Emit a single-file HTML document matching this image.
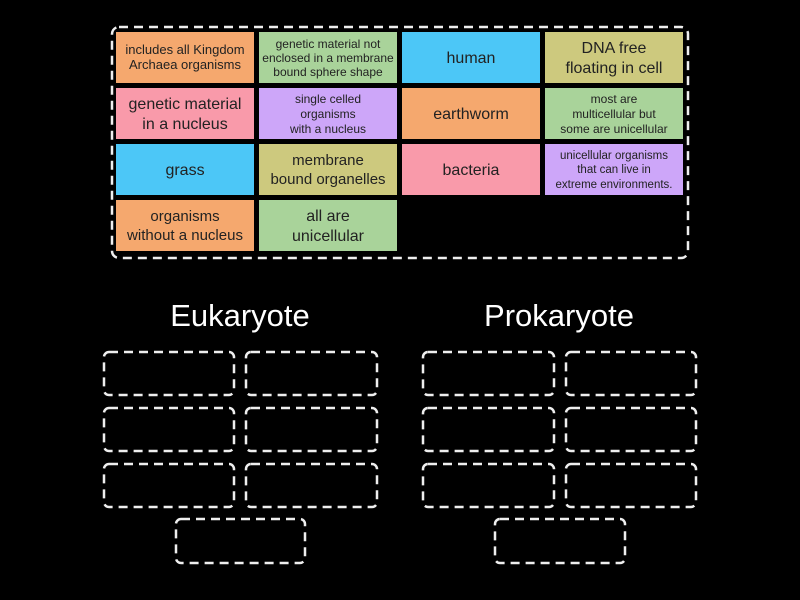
<!DOCTYPE html><html><head><style>body{margin:0;background:#000}svg{display:block}text{font-family:"Liberation Sans",sans-serif;fill:#222;text-anchor:middle}text.h{fill:#fff}</style></head><body>
<svg width="800" height="600" viewBox="0 0 800 600">
<rect width="800" height="600" fill="#000"/>
<g fill="none" stroke="#eee" stroke-width="2.5" stroke-dasharray="9,6">
<rect x="112" y="27" width="576" height="231" rx="7"/>
<rect x="104" y="352" width="130" height="43" rx="5"/><rect x="246" y="352" width="131" height="43" rx="5"/>
<rect x="104" y="408" width="130" height="43" rx="5"/><rect x="246" y="408" width="131" height="43" rx="5"/>
<rect x="104" y="464" width="130" height="43" rx="5"/><rect x="246" y="464" width="131" height="43" rx="5"/>
<rect x="176" y="519" width="129" height="44" rx="5"/>
<rect x="423" y="352" width="131" height="43" rx="5"/><rect x="566" y="352" width="130" height="43" rx="5"/>
<rect x="423" y="408" width="131" height="43" rx="5"/><rect x="566" y="408" width="130" height="43" rx="5"/>
<rect x="423" y="464" width="131" height="43" rx="5"/><rect x="566" y="464" width="130" height="43" rx="5"/>
<rect x="495" y="519" width="130" height="44" rx="5"/>
</g>
<g>
<rect x="116" y="32" width="138" height="51" fill="#f5a86e"/>
<rect x="259" y="32" width="138" height="51" fill="#a9d39a"/>
<rect x="402" y="32" width="138" height="51" fill="#4cc7f7"/>
<rect x="545" y="32" width="138" height="51" fill="#cdc97e"/>
<rect x="116" y="88" width="138" height="51" fill="#f99aaa"/>
<rect x="259" y="88" width="138" height="51" fill="#cda6f9"/>
<rect x="402" y="88" width="138" height="51" fill="#f5a86e"/>
<rect x="545" y="88" width="138" height="51" fill="#a9d39a"/>
<rect x="116" y="144" width="138" height="51" fill="#4cc7f7"/>
<rect x="259" y="144" width="138" height="51" fill="#cdc97e"/>
<rect x="402" y="144" width="138" height="51" fill="#f99aaa"/>
<rect x="545" y="144" width="138" height="51" fill="#cda6f9"/>
<rect x="116" y="200" width="138" height="51" fill="#f5a86e"/>
<rect x="259" y="200" width="138" height="51" fill="#a9d39a"/>
</g>
<g font-size="13">
<text x="185" y="54">includes all Kingdom</text><text x="185" y="69">Archaea organisms</text>
<text x="614" y="103" font-size="12">most are</text><text x="614" y="118" font-size="12">multicellular but</text><text x="614" y="133" font-size="12">some are unicellular</text>
</g>
<g font-size="12">
<text x="328" y="48">genetic material not</text><text x="328" y="62">enclosed in a membrane</text><text x="328" y="76">bound sphere shape</text>
<text x="328" y="103">single celled</text><text x="328" y="118">organisms</text><text x="328" y="133">with a nucleus</text>
<text x="614" y="159" font-size="11.5">unicellular organisms</text><text x="614" y="173" font-size="11.5">that can live in</text><text x="614" y="188" font-size="11.5">extreme environments.</text>
</g>
<g font-size="16">
<text x="471" y="63">human</text>
<text x="614" y="53">DNA free</text><text x="614" y="73">floating in cell</text>
<text x="185" y="109">genetic material</text><text x="185" y="129">in a nucleus</text>
<text x="471" y="119">earthworm</text>
<text x="185" y="175">grass</text>
<text x="328" y="165" font-size="15">membrane</text><text x="328" y="184" font-size="15">bound organelles</text>
<text x="471" y="175">bacteria</text>
<text x="185" y="221" font-size="15">organisms</text><text x="185" y="240" font-size="15">without a nucleus</text>
<text x="328" y="221">all are</text><text x="328" y="241">unicellular</text>
</g>
<text class="h" x="240" y="326" font-size="31">Eukaryote</text>
<text class="h" x="559" y="326" font-size="31">Prokaryote</text>
</svg></body></html>
